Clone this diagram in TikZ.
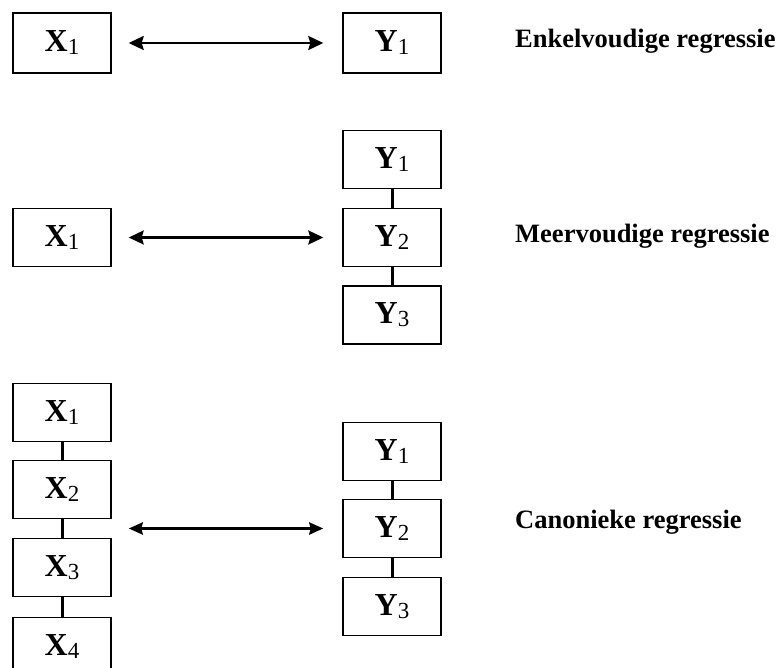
\documentclass[tikz,border=0pt]{standalone}
\usepackage{fontspec}
\setmainfont{Liberation Serif}
\usetikzlibrary{arrows.meta}
\newcommand{\vb}[2]{{\fontsize{32}{34}\selectfont\bfseries #1}\raisebox{-3pt}{\fontsize{23}{24}\selectfont #2}}
\tikzset{
  vbox/.style={draw, line width=1.4pt, minimum width=98pt, minimum height=58pt, inner sep=0pt, fill=white},
  link/.style={line width=3pt},
  relarrow/.style={line width=2.2pt, {Stealth[length=15pt,width=14pt,inset=2pt]}-{Stealth[length=15pt,width=14pt,inset=2pt]}, shorten <=17pt, shorten >=19pt},
  bigarrow/.style={line width=3.5pt, {Stealth[length=14pt,width=12pt,inset=1.5pt]}-{Stealth[length=14pt,width=12pt,inset=1.5pt]}, shorten <=17pt, shorten >=19pt},
  lbl/.style={anchor=base west, inner sep=0pt, font=\fontsize{26.5}{28}\selectfont\bfseries}
}
\begin{document}
\begin{tikzpicture}[x=1pt,y=-1pt]
\useasboundingbox (0,0) rectangle (776,668);
\clip (0,0) rectangle (776,668);
% row 1
\node[vbox, minimum height=60pt] (ax1) at (62,43) {\vb{X}{1}};
\node[vbox, minimum height=60pt] (ay1) at (392,43) {\vb{Y}{1}};
\draw[relarrow] (ax1.east) -- (ay1.west);
\node[lbl] (la) at (515,48) {Enkelvoudige regressie};
% row 2
\node[vbox] (bx1) at (62,237.5) {\vb{X}{1}};
\node[vbox] (by1) at (392,159.5) {\vb{Y}{1}};
\node[vbox] (by2) at (392,237.5) {\vb{Y}{2}};
\node[vbox] (by3) at (392,315) {\vb{Y}{3}};
\draw[link] (by1.south) -- (by2.north);
\draw[link] (by2.south) -- (by3.north);
\draw[relarrow] (bx1.east) -- (by2.west);
\node[lbl] (lb) at (515,243) {Meervoudige regressie};
% row 3
\node[vbox] (cx1) at (62,412.5) {\vb{X}{1}};
\node[vbox] (cx2) at (62,489.5) {\vb{X}{2}};
\node[vbox] (cx3) at (62,567.5) {\vb{X}{3}};
\node[vbox] (cx4) at (62,646.5) {\vb{X}{4}};
\node[vbox] (cy1) at (392,451.5) {\vb{Y}{1}};
\node[vbox] (cy2) at (392,528.5) {\vb{Y}{2}};
\node[vbox] (cy3) at (392,606.5) {\vb{Y}{3}};
\draw[link] (cx1.south) -- (cx2.north);
\draw[link] (cx2.south) -- (cx3.north);
\draw[link] (cx3.south) -- (cx4.north);
\draw[link] (cy1.south) -- (cy2.north);
\draw[link] (cy2.south) -- (cy3.north);
\draw[bigarrow] (cx2.east |- cy2.west) -- (cy2.west);
\node[lbl] (lc) at (515,528) {Canonieke regressie};
\end{tikzpicture}
\end{document}
